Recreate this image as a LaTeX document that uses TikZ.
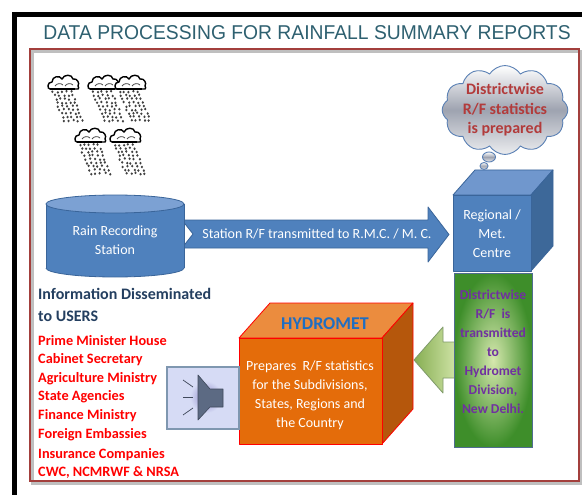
\documentclass[tikz,border=0pt]{standalone}
\usepackage{fontspec}
\setmainfont{Carlito}
\newfontfamily\titlefont{Liberation Sans}
\usetikzlibrary{shapes.symbols,shapes.geometric}

\definecolor{frameRed}{HTML}{A33F3C}
\definecolor{titleTeal}{HTML}{2E6070}
\definecolor{boxBlue}{HTML}{4F81BD}
\definecolor{boxBlueLine}{HTML}{3A659A}
\definecolor{boxBlueTop}{HTML}{7097CD}
\definecolor{boxBlueSide}{HTML}{3D6899}
\definecolor{cylTop}{HTML}{7CA1D3}
\definecolor{cloudLine}{HTML}{5A80B4}
\definecolor{cloudGrey}{HTML}{9EA3B0}
\definecolor{cloudText}{HTML}{B23B3B}
\definecolor{greenInner}{HTML}{D6E8AE}
\definecolor{greenOuter}{HTML}{3E8E2A}
\definecolor{greenLine}{HTML}{4F6D8F}
\definecolor{arrowGreenDark}{HTML}{86AE52}
\definecolor{arrowGreenLight}{HTML}{CFE3A6}
\definecolor{arrowGreenLine}{HTML}{7F9A6A}
\definecolor{purpleText}{HTML}{7030A0}
\definecolor{orangeFront}{HTML}{E46C0A}
\definecolor{orangeTop}{HTML}{EB8C3E}
\definecolor{orangeSide}{HTML}{B5570C}
\definecolor{hydroBlue}{HTML}{1F6EC2}
\definecolor{usersBlue}{HTML}{243F60}
\definecolor{listRed}{HTML}{FF0000}
\definecolor{lavender}{HTML}{D6DBF5}
\definecolor{speakerLine}{HTML}{7F97B0}
\definecolor{speakerBody}{HTML}{5C6A83}
\definecolor{speakerGlow}{HTML}{8A86C6}

\tikzset{
  bodytext/.style={font=\fontsize{14}{19}\selectfont, align=center, inner sep=0pt},
  boldtext/.style={font=\bfseries\fontsize{13.6}{19}\selectfont, align=center, inner sep=0pt},
  listtext/.style={font=\bfseries\fontsize{14.3}{19}\selectfont, text=listRed, anchor=west, inner sep=0pt},
  bluebox/.style={fill=boxBlue, draw=boxBlueLine, line width=0.8pt, line join=round},
  orangeedge/.style={draw=red, line width=0.8pt, line join=round},
  silver/.style={top color=white, bottom color=white!80!cloudGrey, middle color=cloudGrey,
                 draw=cloudLine, line width=0.9pt},
  raincloud/.pic={
    % falling rain, slanting to the right
    \foreach \i in {0,...,8}{
      \foreach \j in {0,...,4}{
        \fill[black!75] ({4+\j*4.6+\i*1.4+rnd*2},{16+\i*3.6+rnd*1.5}) ellipse [x radius=1.2, y radius=1.4];
      }
    }
    % the cloud itself
    \fill[white, draw=black, line width=1.4pt] (2,14)
      .. controls (-1,14) and (-1,7) .. (4,7)
      .. controls (4,1) and (12,0) .. (14,4)
      .. controls (16,-1) and (24,-1) .. (25,4)
      .. controls (29,3) and (32,8) .. (30,11)
      .. controls (32,14) and (29,15) .. (27,14) -- cycle;
    \draw[line width=2.4pt] (2,14) -- (27,14);
    \draw[black!70, line width=0.8pt] (7,11) .. controls (9,8) and (13,8) .. (15,10);
    \draw[black!70, line width=0.8pt] (17,11) .. controls (19,8) and (23,8) .. (25,10);
  }
}

\begin{document}
\begin{tikzpicture}[x=1pt, y=-1pt]
\pgfmathsetseed{7}
\useasboundingbox (0,0) rectangle (582,495);
\fill[white] (0,0) rectangle (582,495);

% outer black frame (top and left edges)
\draw[line width=5pt] (12,14.5) -- (582,14.5);
\draw[line width=5pt] (14.5,12) -- (14.5,495);

% title
\node[text=titleTeal, font=\titlefont\fontsize{20}{24}\selectfont, inner sep=0pt] (title) at (307,33)
  {\scalebox{0.965}[1]{DATA PROCESSING FOR RAINFALL SUMMARY REPORTS}};

% inner frame with a soft shadow
\draw[black!25, line width=3pt] (32,52) rectangle (581,483);
\draw[frameRed, line width=2.5pt] (30,49) rectangle (579,481);

% rain clouds
\pic at (48,75) {raincloud};
\pic at (88,75) {raincloud};
\pic at (115,75) {raincloud};
\pic at (75,128) {raincloud};
\pic at (110,128) {raincloud};

% block arrow from the station to the centre
\draw[bluebox] (182,220) -- (428,220) -- (428,207) -- (449,234.5) -- (428,262)
  -- (428,248) -- (182,248) -- (193,234) -- cycle;
\node[bodytext, text=white] (transmit) at (317,234) {Station R/F transmitted to R.M.C. / M. C.};

% rain recording station (cylinder)
\fill[boxBlue] (46,204) rectangle (184,268);
\fill[boxBlue] (115,268) ellipse [x radius=69, y radius=9];
\begin{scope}
  \clip (40,268) rectangle (190,285);
  \draw[boxBlueLine, line width=0.8pt] (115,268) ellipse [x radius=69, y radius=9];
\end{scope}
\draw[boxBlueLine, line width=0.8pt] (46,204) -- (46,268) (184,204) -- (184,268);
\draw[fill=cylTop, draw=boxBlueLine, line width=0.8pt] (115,204) ellipse [x radius=69, y radius=9];
\node[bodytext, text=white] (station) at (115,240) {Rain Recording\\Station};

% regional / met. centre (cube)
\draw[bluebox, fill=boxBlueTop] (453,195) -- (475,170) -- (553,170) -- (531,195) -- cycle;
\draw[bluebox, fill=boxBlueSide] (531,195) -- (553,170) -- (553,246) -- (531,271) -- cycle;
\draw[bluebox] (453,195) rectangle (531,271);
\node[bodytext, text=white] (centre) at (492,234) {Regional /\\Met.\\Centre};

% thought bubble above the centre
\node[cloud, cloud puffs=12, cloud puff arc=115, cloud ignores aspect,
      minimum width=110pt, minimum height=76pt, inner sep=0pt, silver,
      font=\bfseries\fontsize{16}{19.5}\selectfont, align=center, text=cloudText] (prepared) at (505,110)
  {Districtwise\\R/F statistics\\is prepared};
\node[ellipse, minimum width=13pt, minimum height=10pt, inner sep=0pt, silver] (bubbleA) at (489,157) {};
\node[ellipse, minimum width=8pt, minimum height=7pt, inner sep=0pt, silver] (bubbleB) at (484,166) {};

% green block arrow towards hydromet
\draw[left color=arrowGreenDark, right color=arrowGreenLight, draw=arrowGreenLine, line width=0.8pt, line join=round]
  (414,360) -- (443,327) -- (443,342) -- (456,342) -- (456,378) -- (443,378) -- (443,393) -- cycle;

% green panel
\draw[inner color=greenInner, outer color=greenOuter, draw=greenLine, line width=1pt] (454,273) rectangle (532,447);
\node[boldtext, text=purpleText] (toDelhi) at (493,352)
  {Districtwise\\R/F\ \ is\\transmitted\\to\\Hydromet\\Division,\\New Delhi.};

% hydromet (cube)
\draw[orangeedge, fill=orangeTop] (239,338) -- (270,303) -- (413,303) -- (382,338) -- cycle;
\draw[orangeedge, fill=orangeSide] (382,338) -- (413,303) -- (413,409) -- (382,444) -- cycle;
\draw[orangeedge, fill=orangeFront] (239,338) rectangle (382,444);
\node[font=\bfseries\fontsize{18}{20}\selectfont, text=hydroBlue, inner sep=0pt] (hydromet) at (325,324) {HYDROMET};
\node[bodytext, text=white] (prepares) at (310,395)
  {Prepares\ \ R/F statistics\\for the Subdivisions,\\States, Regions and\\the Country};

% loudspeaker panel
\draw[fill=lavender, draw=speakerLine, line width=1.6pt] (167,367) rectangle (239,429);
\shade[inner color=speakerGlow, outer color=lavender] (206,397) circle (16);
\draw[fill=speakerBody, draw=speakerBody!70!black, line width=0.6pt, line join=round]
  (198,375) -- (210,389) -- (223,389) -- (223,407) -- (210,407) -- (198,420) -- cycle;
\draw[speakerBody!70!black, line width=0.7pt] (183,380) -- (193,387);
\draw[speakerBody!70!black, line width=0.7pt] (183,397) -- (193,397);
\draw[speakerBody!70!black, line width=0.7pt] (183,415) -- (193,408);

% users of the information
\node[font=\bfseries\fontsize{16}{22}\selectfont, text=usersBlue, align=left, anchor=north west, inner sep=0pt]
  (users) at (38,288) {Information Disseminated\\to USERS};
\node[listtext] (u1) at (38,341) {Prime Minister House};
\node[listtext] (u2) at (38,359.5) {Cabinet Secretary};
\node[listtext] (u3) at (38,378.5) {Agriculture Ministry};
\node[listtext] (u4) at (38,397) {State Agencies};
\node[listtext] (u5) at (38,416) {Finance Ministry};
\node[listtext] (u6) at (38,435) {Foreign Embassies};
\node[listtext] (u7) at (38,454.5) {Insurance Companies};
\node[listtext] (u8) at (38,473) {CWC, NCMRWF \& NRSA};
\end{tikzpicture}
\end{document}
